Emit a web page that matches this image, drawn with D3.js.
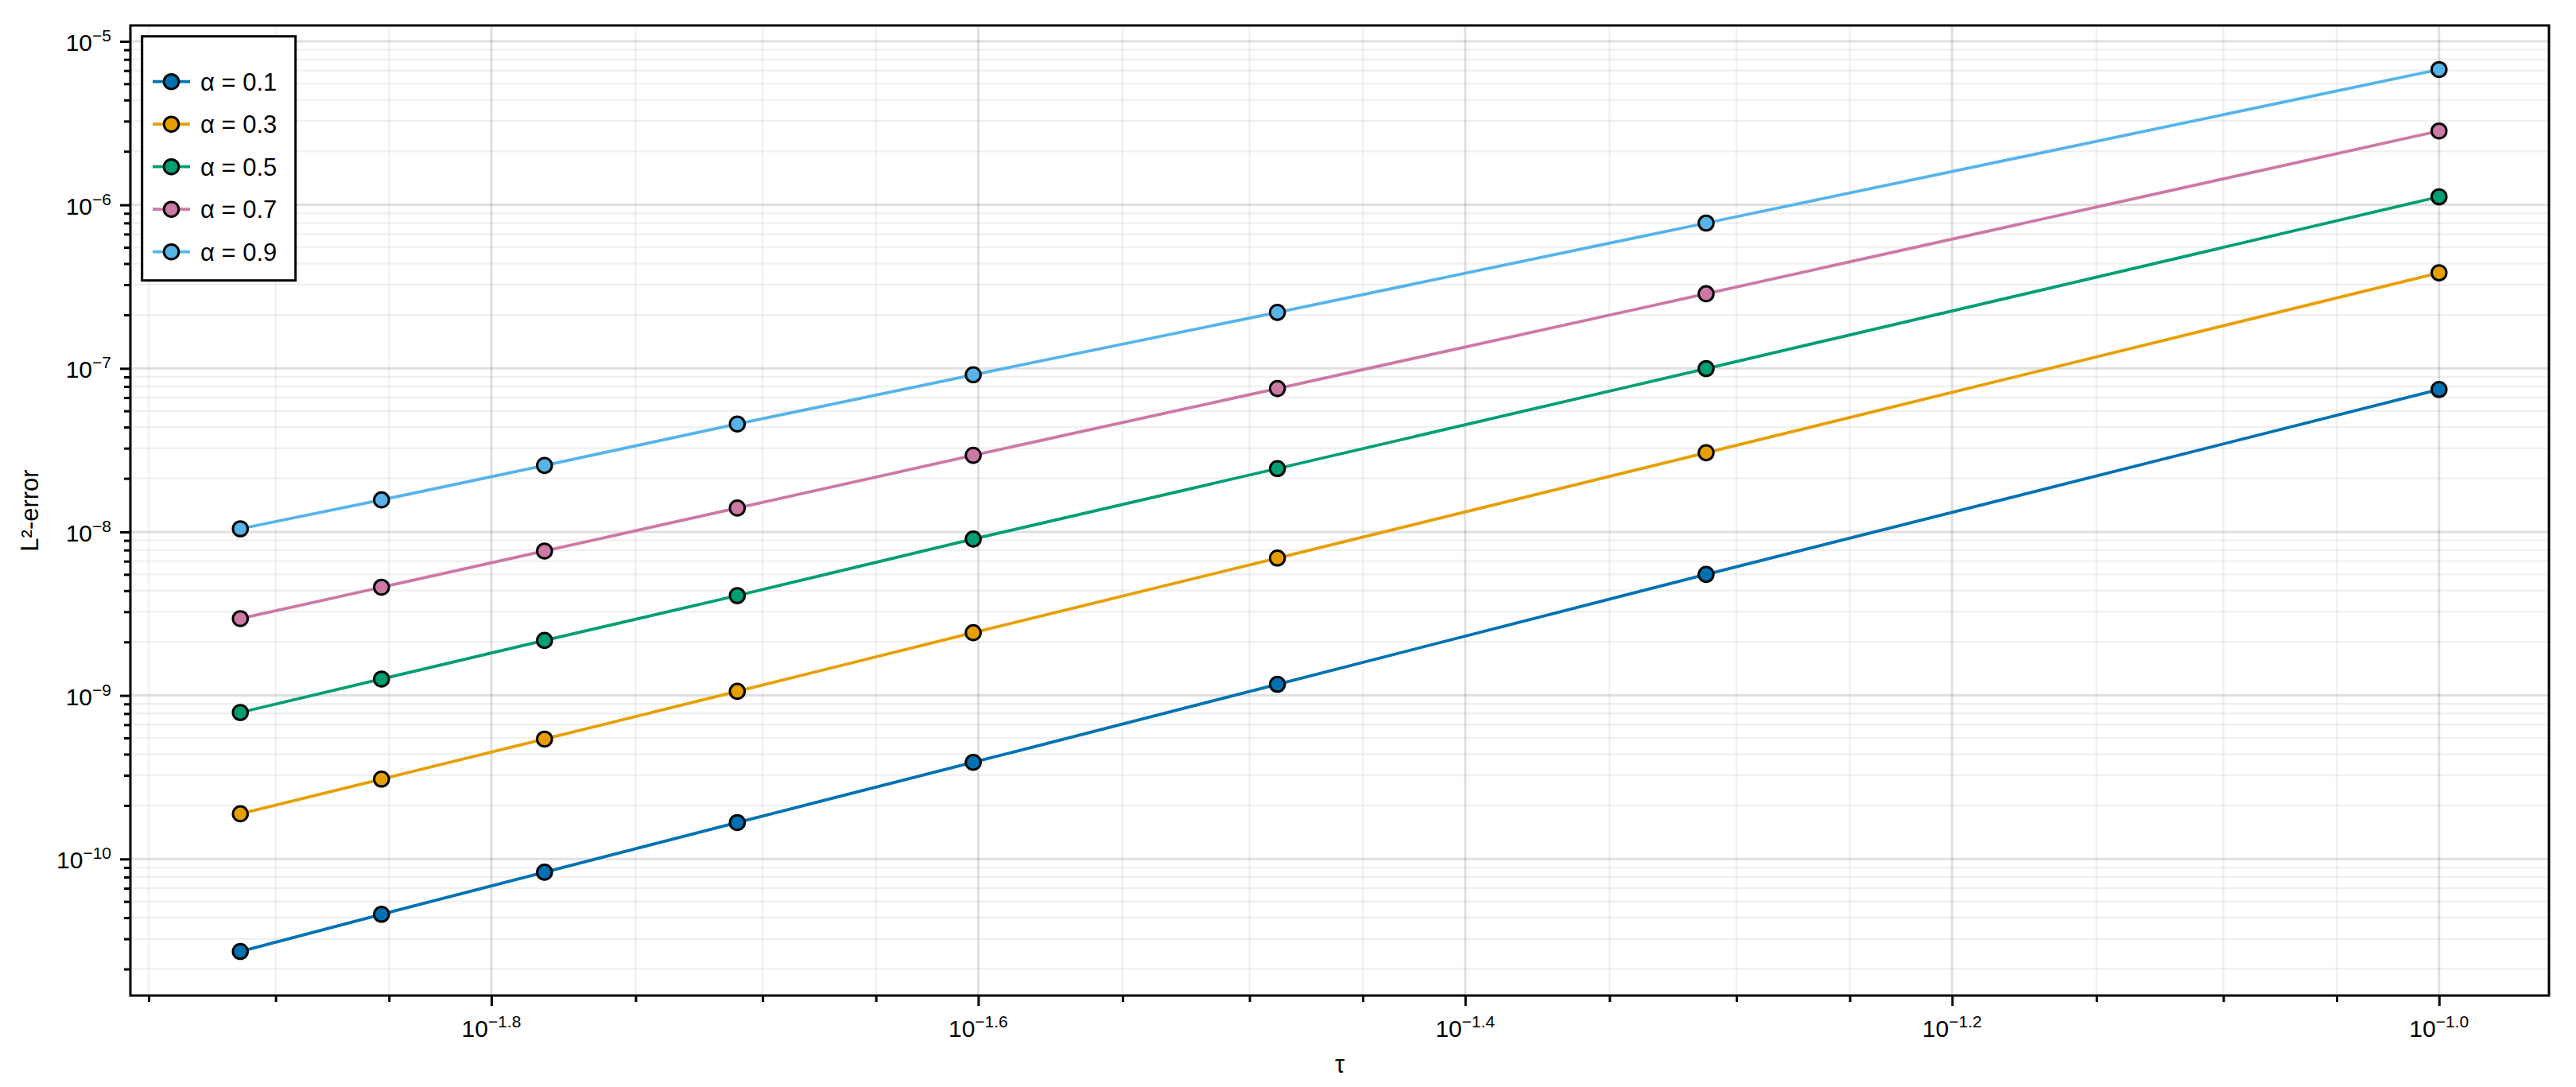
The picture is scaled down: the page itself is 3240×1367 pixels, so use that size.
<!DOCTYPE html>
<html>
<head>
<meta charset="utf-8">
<script src="https://cdn.jsdelivr.net/npm/d3@7"></script>
<style>
  body { margin: 0; background: #fff; }
  svg { display: block; }
  text { font-family: "Liberation Sans", Arial, Helvetica, sans-serif; fill: #000; }
</style>
</head>
<body>
<svg id="chart" width="3240" height="1367"></svg>
<script>
// ---------------- data ----------------
const tau = [1/80, 1/70, 1/60, 1/50, 1/40, 1/30, 1/20, 1/10];
const seriesLabels = ["α = 0.1", "α = 0.3", "α = 0.5", "α = 0.7", "α = 0.9"];
const errAlpha01 = [2.72e-11, 4.59e-11, 8.30e-11, 1.67e-10, 3.90e-10, 1.17e-9, 5.50e-9, 7.43e-8];
const errAlpha03 = [1.89e-10, 3.08e-10, 5.41e-10, 1.06e-9, 2.42e-9, 6.92e-9, 3.05e-8, 3.84e-7];
const errAlpha05 = [7.87e-10, 1.26e-9, 2.17e-9, 4.08e-9, 9.05e-9, 2.44e-8, 9.97e-8, 1.12e-6];
const errAlpha07 = [2.95e-9, 4.59e-9, 7.64e-9, 1.40e-8, 2.94e-8, 7.53e-8, 2.86e-7, 2.83e-6];
const errAlpha09 = [1.045e-8, 1.57e-8, 2.55e-8, 4.57e-8, 9.14e-8, 2.20e-7, 7.74e-7, 6.72e-6];
const seriesColors = ["#0072B2", "#E69F00", "#009E73", "#CC79A7", "#56B4E9"];
const xTickExponents = [-1.8, -1.6, -1.4, -1.2, -1.0];
const xTickLabels = ["−1.8", "−1.6", "−1.4", "−1.2", "−1.0"];
const yTickExponents = [-10, -9, -8, -7, -6, -5];
const yTickLabels = ["−10", "−9", "−8", "−7", "−6", "−5"];
const xAxisTitle = "τ";
const yAxisTitle = "L²-error";

// ---------------- layout ----------------
const svg = d3.select("#chart");
const W = 3240, H = 1367;
const M = { l: 164, t: 32, r: 3206, b: 1252 };
svg.append("rect").attr("width", W).attr("height", H).attr("fill", "#fff");

const series = [errAlpha01, errAlpha03, errAlpha05, errAlpha07, errAlpha09];

function logPad(ext) {
  const a = Math.log10(ext[0]), b = Math.log10(ext[1]), p = (b - a) * 0.05;
  return [Math.pow(10, a - p), Math.pow(10, b + p)];
}
const allErr = [].concat(...series);
const x = d3.scaleLog().domain(logPad(d3.extent(tau))).range([M.l, M.r]);
const y = d3.scaleLog().domain(logPad(d3.extent(allErr))).range([M.b, M.t]);

function minorBetween(exps, n) {
  const out = [];
  for (let i = 0; i < exps.length - 1; i++) {
    const a = Math.pow(10, exps[i]), b = Math.pow(10, exps[i + 1]);
    for (let k = 1; k < n; k++) out.push(a + k * (b - a) / n);
  }
  return out;
}
const inDom = (s) => (v) => { const d = s.domain(); return v >= Math.min(d[0], d[1]) && v <= Math.max(d[0], d[1]); };

const xMajor = xTickExponents.map(e => Math.pow(10, e));
const yMajor = yTickExponents.map(e => Math.pow(10, e));
const xMinor = minorBetween([-2.0, ...xTickExponents, -0.8], 4).filter(inDom(x));
const yMinor = minorBetween([-11, ...yTickExponents, -4], 8).filter(inDom(y));

// ---------------- grid ----------------
const grid = svg.append("g");
grid.selectAll(".xminor").data(xMinor).join("line")
  .attr("x1", d => x(d)).attr("x2", d => x(d)).attr("y1", M.t).attr("y2", M.b)
  .attr("stroke", "#000").attr("stroke-opacity", 0.055).attr("stroke-width", 2.5);
grid.selectAll(".yminor").data(yMinor).join("line")
  .attr("y1", d => y(d)).attr("y2", d => y(d)).attr("x1", M.l).attr("x2", M.r)
  .attr("stroke", "#000").attr("stroke-opacity", 0.055).attr("stroke-width", 2.5);
grid.selectAll(".xmajor").data(xMajor).join("line")
  .attr("x1", d => x(d)).attr("x2", d => x(d)).attr("y1", M.t).attr("y2", M.b)
  .attr("stroke", "#000").attr("stroke-opacity", 0.12).attr("stroke-width", 3);
grid.selectAll(".ymajor").data(yMajor).join("line")
  .attr("y1", d => y(d)).attr("y2", d => y(d)).attr("x1", M.l).attr("x2", M.r)
  .attr("stroke", "#000").attr("stroke-opacity", 0.12).attr("stroke-width", 3);

// ---------------- data marks ----------------
const plot = svg.append("g");
const line = d3.line().x((d, i) => x(tau[i])).y(d => y(d));
series.forEach((s, si) => {
  plot.append("path").datum(s).attr("d", line)
    .attr("fill", "none").attr("stroke", seriesColors[si]).attr("stroke-width", 3.8);
  plot.selectAll(null).data(s).join("circle")
    .attr("cx", (d, i) => x(tau[i])).attr("cy", d => y(d)).attr("r", 9.3)
    .attr("fill", seriesColors[si]).attr("stroke", "#000").attr("stroke-width", 3);
});

// ---------------- axes ----------------
function styleAxis(g) {
  g.select(".domain").remove();
  g.selectAll(".tick line").attr("stroke", "#000").attr("stroke-width", 3);
  g.selectAll(".tick text").remove();
}
svg.append("g").attr("transform", `translate(0,${M.b})`)
  .call(d3.axisBottom(x).tickValues(xMinor).tickSize(8).tickFormat(() => "")).call(styleAxis);
svg.append("g").attr("transform", `translate(0,${M.b})`)
  .call(d3.axisBottom(x).tickValues(xMajor).tickSize(13).tickFormat(() => "")).call(styleAxis);
svg.append("g").attr("transform", `translate(${M.l},0)`)
  .call(d3.axisLeft(y).tickValues(yMinor).tickSize(8).tickFormat(() => "")).call(styleAxis);
svg.append("g").attr("transform", `translate(${M.l},0)`)
  .call(d3.axisLeft(y).tickValues(yMajor).tickSize(13).tickFormat(() => "")).call(styleAxis);

// tick labels with superscripts
const FS = 30, SUP = 21, LFS = 31;
xMajor.forEach((v, i) => {
  const t = svg.append("text").attr("x", x(v)).attr("y", 1304)
    .attr("text-anchor", "middle").attr("font-size", FS);
  t.append("tspan").text("10");
  t.append("tspan").attr("font-size", SUP).attr("dy", -12.5).text(xTickLabels[i]);
});
yMajor.forEach((v, i) => {
  const t = svg.append("text").attr("x", 140).attr("y", y(v) + 12)
    .attr("text-anchor", "end").attr("font-size", FS);
  t.append("tspan").text("10");
  t.append("tspan").attr("font-size", SUP).attr("dy", -12).text(yTickLabels[i]);
});

// axis titles
svg.append("text").attr("x", (M.l + M.r) / 2).attr("y", 1349)
  .attr("text-anchor", "middle").attr("font-size", LFS).text(xAxisTitle);
svg.append("text").attr("transform", `translate(48,${(M.t + M.b) / 2}) rotate(-90)`)
  .attr("text-anchor", "middle").attr("font-size", LFS).text(yAxisTitle);

// frame
svg.append("rect").attr("x", M.l).attr("y", M.t).attr("width", M.r - M.l).attr("height", M.b - M.t)
  .attr("fill", "none").attr("stroke", "#000").attr("stroke-width", 3);

// ---------------- legend ----------------
const lg = svg.append("g");
lg.append("rect").attr("x", 178.7).attr("y", 45.7).attr("width", 193).attr("height", 307)
  .attr("fill", "#fff").attr("stroke", "#000").attr("stroke-width", 3);
seriesLabels.forEach((lab, i) => {
  const cy = 102.7 + i * 53.5;
  lg.append("line").attr("x1", 192).attr("x2", 239).attr("y1", cy).attr("y2", cy)
    .attr("stroke", seriesColors[i]).attr("stroke-width", 3.8);
  lg.append("circle").attr("cx", 215.5).attr("cy", cy).attr("r", 9.3)
    .attr("fill", seriesColors[i]).attr("stroke", "#000").attr("stroke-width", 3);
  lg.append("text").attr("x", 252).attr("y", cy + 11).attr("font-size", LFS).text(lab);
});
</script>
</body>
</html>
